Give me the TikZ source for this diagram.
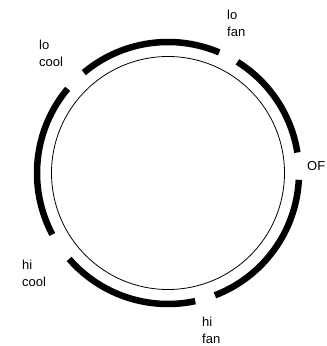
\documentclass[tikz,border=0pt]{standalone}
\usepackage{fontspec}
\setmainfont{Liberation Sans}
\begin{document}
\begin{tikzpicture}[
  x=1pt,
  y=1pt,
  dial/.style={draw=black, line width=0.8pt},
  band/.style={draw=black, line width=6.5pt},
  setting/.style={
    font=\fontsize{13}{17}\selectfont,
    align=left,
    anchor=north west,
    inner sep=0pt
  }
]

\useasboundingbox (0,0) rectangle (327,346);
\coordinate (ctr) at (168,173);

% Inner dial face.
\draw[dial] (ctr) circle[radius=116.5];

% Outer switch bands, with a gap at each setting.
\foreach \a/\b in {9/58, 67/130, 140/208, 221/282, 291/357}
  \draw[band] (ctr) ++(\a:131) arc[start angle=\a, end angle=\b, radius=131];

\node[setting] (lofan)  at (227,336) {lo\\fan};
\node[setting] (locool) at (39,306)  {lo\\cool};
\node[setting] (hicool) at (22,86)   {hi\\cool};
\node[setting] (hifan)  at (202,29)  {hi\\fan};
\node[setting, anchor=west] (off) at (307,180) {OF};

\end{tikzpicture}
\end{document}
